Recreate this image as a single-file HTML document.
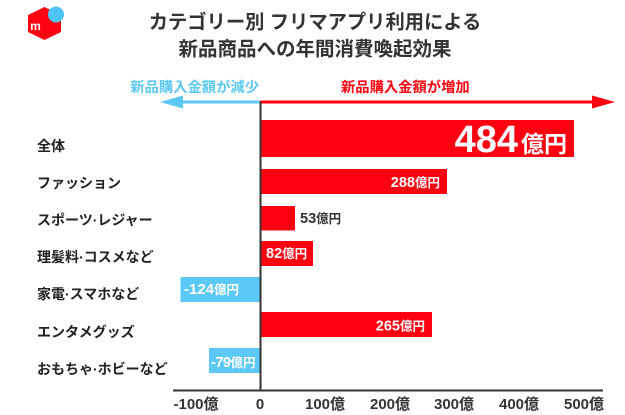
<!DOCTYPE html>
<html lang="ja">
<head>
<meta charset="utf-8">
<style>
  html,body{margin:0;padding:0;background:#fff;}
  body{width:625px;height:415px;overflow:hidden;}
  svg{display:block;}
  text{font-family:"Liberation Sans","Noto Sans CJK JP",sans-serif;font-weight:bold;}
</style>
</head>
<body>
<svg width="625" height="415" viewBox="0 0 625 415" xmlns="http://www.w3.org/2000/svg">
  <rect width="625" height="415" fill="#fff"/>

  <!-- logo -->
  <polygon points="44.5,7 61,15 61,32 44.5,40 28,32 28,15" fill="#ff0211"/>
  <circle cx="56" cy="14.5" r="8" fill="#4dc4f5"/>
  <text x="35.5" y="30" font-size="12" fill="#fff" text-anchor="middle">m</text>

  <!-- title -->
  <text x="315" y="28.5" font-size="19.3" fill="#333" text-anchor="middle">カテゴリー別 フリマアプリ利用による</text>
  <text x="315" y="55.5" font-size="19.5" fill="#333" text-anchor="middle">新品商品への年間消費喚起効果</text>

  <!-- arrow labels -->
  <text x="259" y="92" font-size="14.3" fill="#5bc8f5" text-anchor="end">新品購入金額が減少</text>
  <text x="341" y="92" font-size="14.3" fill="#ff0211">新品購入金額が増加</text>

  <!-- arrows -->
  <line x1="260" y1="102" x2="180" y2="102" stroke="#5bc8f5" stroke-width="3"/>
  <polygon points="160,102 183,95.5 183,108.5" fill="#5bc8f5"/>
  <line x1="260" y1="102" x2="595" y2="102" stroke="#ff0211" stroke-width="3"/>
  <polygon points="615,102 592,95.5 592,108.5" fill="#ff0211"/>

  <!-- bars -->
  <rect x="261" y="120" width="313" height="37" fill="#ff0010"/>
  <rect x="261" y="169" width="186" height="25" fill="#ff0010"/>
  <rect x="261" y="206" width="34" height="24.5" fill="#ff0010"/>
  <rect x="261" y="241" width="52" height="25" fill="#ff0010"/>
  <rect x="180.5" y="277" width="80" height="25" fill="#5bc8f5"/>
  <rect x="261" y="312" width="171" height="25" fill="#ff0010"/>
  <rect x="209" y="348" width="51.5" height="25" fill="#5bc8f5"/>

  <!-- zero line -->
  <line x1="260.5" y1="102" x2="260.5" y2="391" stroke="#333" stroke-width="2"/>
  <!-- axis -->
  <line x1="173" y1="390.5" x2="603" y2="390.5" stroke="#333" stroke-width="2"/>

  <!-- value labels -->
  <text x="567" y="152" fill="#fff" text-anchor="end"><tspan font-size="38">484</tspan><tspan font-size="23" dx="3">億円</tspan></text>
  <text x="440" y="187" fill="#fff" text-anchor="end"><tspan font-size="14.5">288</tspan><tspan font-size="12.5">億円</tspan></text>
  <text x="300" y="223" fill="#333"><tspan font-size="14.5">53</tspan><tspan font-size="12.5">億円</tspan></text>
  <text x="266" y="258" fill="#fff"><tspan font-size="14.5">82</tspan><tspan font-size="12.5">億円</tspan></text>
  <text x="184" y="294" fill="#fff"><tspan font-size="15">-124</tspan><tspan font-size="12.5">億円</tspan></text>
  <text x="425" y="330.5" fill="#fff" text-anchor="end"><tspan font-size="14.5">265</tspan><tspan font-size="12.5">億円</tspan></text>
  <text x="211" y="367" fill="#fff"><tspan font-size="14.5" letter-spacing="-0.5">-79</tspan><tspan font-size="12.5">億円</tspan></text>

  <!-- category labels -->
  <g font-size="14" fill="#222">
    <text x="37" y="151">全体</text>
    <text x="37" y="188">ファッション</text>
    <text x="37" y="225">スポーツ·レジャー</text>
    <text x="37" y="262">理髪料·コスメなど</text>
    <text x="37" y="299">家電·スマホなど</text>
    <text x="37" y="337">エンタメグッズ</text>
    <text x="37" y="374">おもちゃ·ホビーなど</text>
  </g>

  <!-- tick labels -->
  <g font-size="15" fill="#333" text-anchor="middle">
    <text x="196" y="409">-100億</text>
    <text x="260" y="409">0</text>
    <text x="325" y="409">100億</text>
    <text x="390" y="409">200億</text>
    <text x="454" y="409">300億</text>
    <text x="519" y="409">400億</text>
    <text x="584" y="409">500億</text>
  </g>
</svg>
</body>
</html>
